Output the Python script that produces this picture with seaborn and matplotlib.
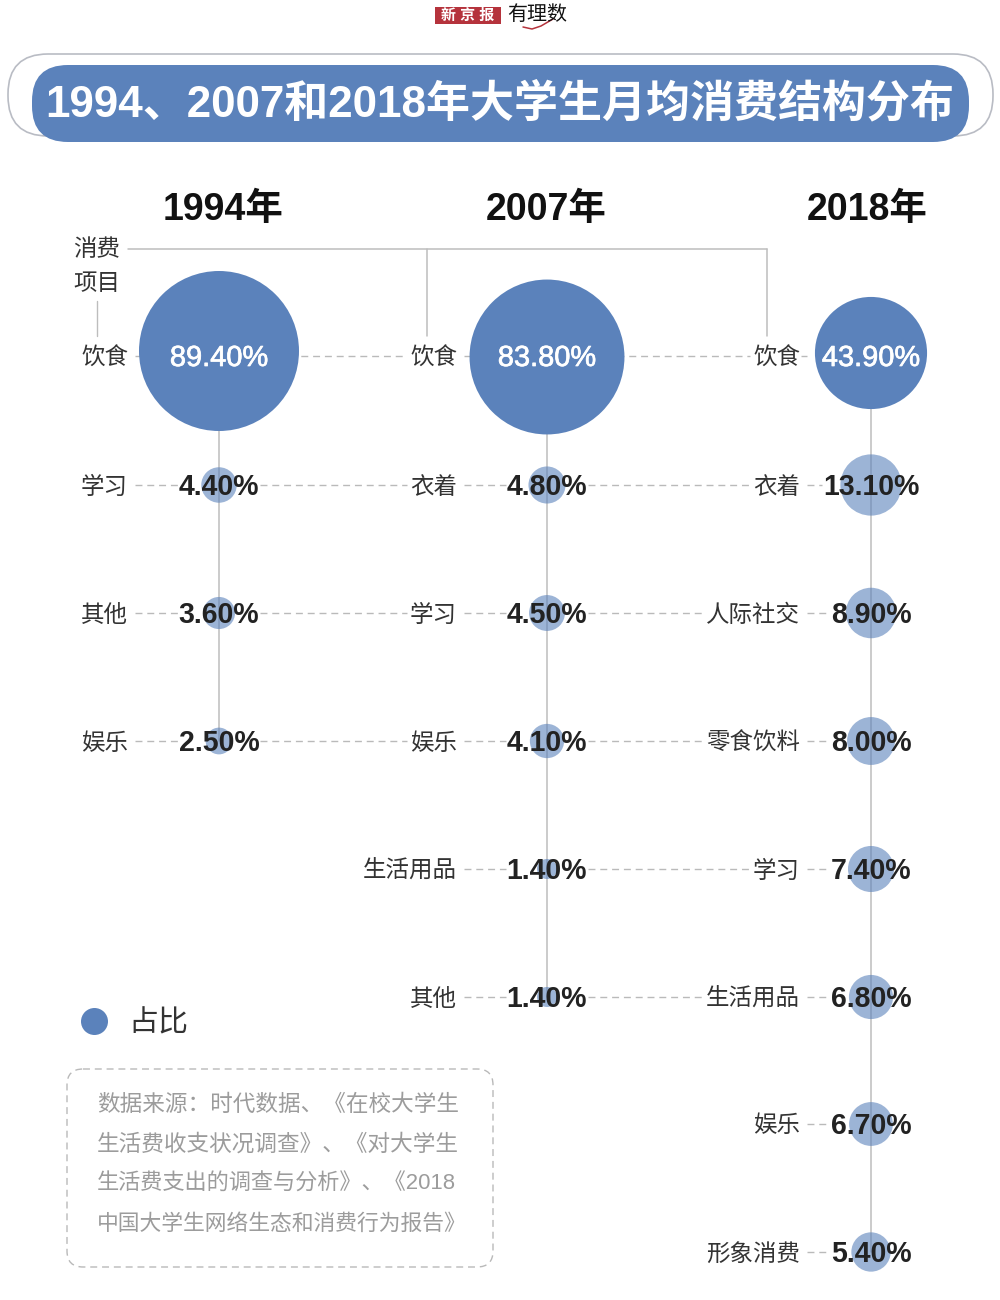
import pandas as pd
import matplotlib
matplotlib.use('Agg')
import matplotlib.pyplot as plt
import matplotlib.patheffects as pe
import seaborn as sns
from matplotlib.patches import FancyBboxPatch

sns.set_style("white")
plt.rcParams['font.family'] = ['Liberation Sans', 'Noto Sans CJK SC', 'DejaVu Sans']

# data
title = '1994、2007和2018年大学生月均消费结构分布'
years = ['1994年', '2007年', '2018年']
items_1994 = ['饮食', '学习', '其他', '娱乐']
values_1994 = [89.4, 4.4, 3.6, 2.5]
items_2007 = ['饮食', '衣着', '学习', '娱乐', '生活用品', '其他']
values_2007 = [83.8, 4.8, 4.5, 4.1, 1.4, 1.4]
items_2018 = ['饮食', '衣着', '人际社交', '零食饮料', '学习', '生活用品', '娱乐', '形象消费']
values_2018 = [43.9, 13.1, 8.9, 8.0, 7.4, 6.8, 6.7, 5.4]
source_lines = ['数据来源：时代数据、《在校大学生',
                '生活费收支状况调查》、《对大学生',
                '生活费支出的调查与分析》、《2018',
                '中国大学生网络生态和消费行为报告》']

# layout, in pixels of the 1000x1300 picture
col_x = [219, 547, 871]
label_right = [128, 457, 800]
row_y = [356, 485, 613, 741, 869, 997, 1124, 1252]
top_circle_shift = [-5, 1, -3]  # the big circles do not sit quite on the row line
source_sizes = [22.6, 22.6, 22.2, 21.8]
blue = '#5b82bb'
line_grey = '#bdbdbd'
dash_grey = '#bababa'
text_dark = '#333333'
PX = 0.72  # px to pt at dpi 100

rows = []
for c, (items, vals) in enumerate([(items_1994, values_1994),
                                   (items_2007, values_2007),
                                   (items_2018, values_2018)]):
    for r, (item, val) in enumerate(zip(items, vals)):
        rows.append({'col': c, 'row': r, 'item': item, 'value': val,
                     'x': col_x[c], 'y': row_y[r]})
df = pd.DataFrame(rows)

fig = plt.figure(figsize=(10, 13), dpi=100)
ax = fig.add_axes([0, 0, 1, 1])

# circles, area follows the share
scale = dict(size='value', size_norm=(0, 89.4), sizes=(0, (160 * PX) ** 2),
             legend=False, linewidth=0, color=blue, zorder=3, ax=ax)
top = df[df['row'] == 0].copy()
top['y'] = top['y'] + top_circle_shift
sns.scatterplot(data=top, x='x', y='y', **scale)
sns.scatterplot(data=df[df['row'] > 0], x='x', y='y', alpha=0.6, **scale)

# legend dot
legend_df = pd.DataFrame({'x': [94], 'y': [1021]})
sns.scatterplot(data=legend_df, x='x', y='y', s=(27 * PX) ** 2, color=blue, linewidth=0, ax=ax, legend=False)

ax.set_xlim(0, 1000)
ax.set_ylim(1300, 0)
ax.axis('off')

# labels and values
renderer = fig.canvas.get_renderer()
extents = {}
for _, d in df.iterrows():
    first = d['row'] == 0
    lab = ax.text(label_right[d['col']], d['y'] + 2, d['item'], ha='right', va='center',
                  fontsize=23.5 * PX, color=text_dark, zorder=4)
    val = ax.text(d['x'], d['y'] + 2, f"{d['value']:.2f}%", ha='center', va='center',
                  fontsize=(29 if first else 28.5) * PX, zorder=4,
                  color='white' if first else '#222222',
                  fontweight='normal' if first else 'bold')
    if first:
        val.set_path_effects([pe.withStroke(linewidth=0.5, foreground='white')])
    extents[(d['col'], d['row'])] = (lab.get_window_extent(renderer), val.get_window_extent(renderer))

# dashed guides between label and value, and on to the next column's label
dash = dict(color=dash_grey, lw=1.0, ls=(0, (5, 3.5)), zorder=1)
for (c, r), (lab, val) in extents.items():
    y = row_y[r]
    left = val.x0 - 1 if r > 0 else col_x[c] - 70
    right = val.x1 + 1 if r > 0 else col_x[c] + 70
    ax.plot([lab.x1 + 7, left], [y, y], **dash)
    if (c + 1, r) in extents:
        next_lab = extents[(c + 1, r)][0]
        ax.plot([right, next_lab.x0 - 3], [y, y], **dash)

# vertical stems
for c, x in enumerate(col_x):
    last = df[df['col'] == c]['y'].max()
    ax.plot([x, x], [row_y[0], last], color=line_grey, lw=1.1, zorder=2)

# bracket from the 消费项目 label
ax.plot([128, 767], [249, 249], color=line_grey, lw=1.1)
ax.plot([427, 427], [249, 336], color=line_grey, lw=1.1)
ax.plot([767, 767], [249, 336], color=line_grey, lw=1.1)
ax.plot([97, 97], [301, 336], color=line_grey, lw=1.0)
ax.text(97, 250, '消费', ha='center', va='center', fontsize=23.5 * PX, color=text_dark)
ax.text(97, 284, '项目', ha='center', va='center', fontsize=23.5 * PX, color=text_dark)

# column headers
for x, year in zip([223, 546, 867], years):
    ax.text(x, 210, year, ha='center', va='center', fontsize=37.5 * PX, fontweight='bold', color='#111111')

# title banner
ax.add_patch(FancyBboxPatch((8, 54), 985, 82, boxstyle='round,pad=0,rounding_size=40',
                            fc='white', ec='#b9bcc4', lw=1.2, zorder=1))
ax.add_patch(FancyBboxPatch((32, 65), 937, 77, boxstyle='round,pad=0,rounding_size=36',
                            fc=blue, ec='none', zorder=2))
ax.text(500, 104, title, ha='center', va='center', color='white',
        fontsize=44 * PX, fontweight='bold', zorder=3)

# masthead
ax.add_patch(plt.Rectangle((435, 7), 66, 17, fc='#b5333c', ec='none'))
ax.text(468, 16, '新 京 报', ha='center', va='center', color='white',
        fontsize=15 * PX, fontweight='bold')
ax.text(537, 15, '有理数', ha='center', va='center', color='#111111', fontsize=20 * PX)
ax.plot([523, 532, 541, 553], [27, 29, 26, 19], color='#b5333c', lw=1.1)

# legend text
ax.text(128, 1023, '占比', ha='left', va='center', fontsize=30 * PX, color=text_dark)

# source box
ax.add_patch(FancyBboxPatch((67, 1069), 426, 198, boxstyle='round,pad=0,rounding_size=16',
                            fc='none', ec='#b9b9b9', lw=1.0, ls=(0, (5, 3.5))))
for y, line, size in zip([1104, 1144, 1184, 1224], source_lines, source_sizes):
    ax.text(97, y, line, ha='left', va='center', fontsize=size * PX, color='#9c9c9c')

fig.savefig('out.png', dpi=100)
